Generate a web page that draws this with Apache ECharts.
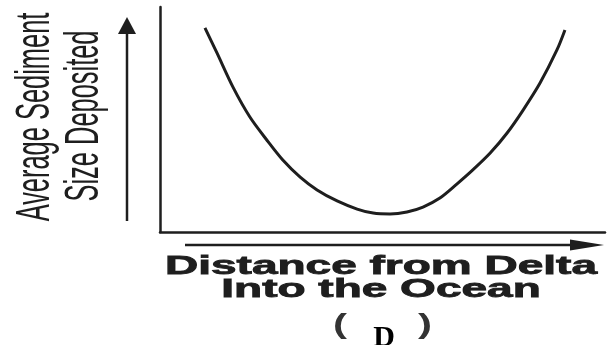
<!DOCTYPE html>
<html>
<head>
<meta charset="utf-8">
<script src="https://cdn.jsdelivr.net/npm/echarts@6/dist/echarts.min.js"></script>
<style>
  html, body { margin: 0; padding: 0; background: #fff; }
  #main { width: 608px; height: 345px; }
</style>
</head>
<body>
<div id="main"></div>
<script>
// distance from delta (0-100) and average sediment size (0-100)
var distance = [10.1, 12.8, 16.4, 20.2, 24.0, 27.6, 31.5, 35.3, 39.8, 44.3, 47.9, 51.7,
                55.5, 59.1, 62.9, 66.7, 70.3, 74.2, 78.0, 81.6, 85.4, 89.2, 91.0];
var sediment = [90.7, 79.6, 64.4, 51.1, 40.9, 32.0, 24.4, 18.7, 13.8, 10.2, 8.4, 8.0,
                8.9, 11.1, 15.1, 21.3, 27.6, 35.1, 44.0, 54.2, 66.2, 80.9, 89.8];
var yTitle = ["Average Sediment", "Size Deposited"];
var xTitle = ["Distance from Delta", "Into the Ocean"];
var caption = "D";

var points = [];
for (var i = 0; i < distance.length; i++) points.push([distance[i], sediment[i]]);

var ink = "#1e1e1e";
var yFont = "31px 'Liberation Sans', Arial, sans-serif";
var xFont = "bold 25px 'Liberation Sans', Arial, sans-serif";
var chart = echarts.init(document.getElementById("main"));

chart.setOption({
    backgroundColor: "#fff",
    animation: false,
    grid: { left: 160, right: 3, top: 7, bottom: 113 },
    xAxis: {
        type: "value", min: 0, max: 100,
        axisLine: { show: true, onZero: false, lineStyle: { color: ink, width: 2.5 } },
        axisTick: { show: false }, axisLabel: { show: false }, splitLine: { show: false }
    },
    yAxis: {
        type: "value", min: 0, max: 100,
        axisLine: { show: true, onZero: false, lineStyle: { color: ink, width: 2.5 } },
        axisTick: { show: false }, axisLabel: { show: false }, splitLine: { show: false }
    },
    series: [{
        type: "line",
        data: points,
        smooth: 0.3,
        showSymbol: false,
        lineStyle: { color: ink, width: 3 }
    }],
    graphic: [
        // vertical arrow
        { type: "line", shape: { x1: 127, y1: 221, x2: 127, y2: 30 }, style: { stroke: ink, lineWidth: 2.5 } },
        { type: "polygon", shape: { points: [[127, 17], [118, 34], [136, 34]] }, style: { fill: ink } },
        // horizontal arrow
        { type: "line", shape: { x1: 185, y1: 245, x2: 580, y2: 245 }, style: { stroke: ink, lineWidth: 2.5 } },
        { type: "polygon", shape: { points: [[604, 245], [570, 239.5], [570, 250.5]] }, style: { fill: ink } },
        // y titles
        {
            type: "text", x: 35, y: 117, rotation: Math.PI / 2, scaleX: 0.82, scaleY: 1.58,
            style: { text: yTitle[0], fill: ink, font: yFont, align: "center", verticalAlign: "middle" }
        },
        {
            type: "text", x: 84, y: 116, rotation: Math.PI / 2, scaleX: 0.82, scaleY: 1.58,
            style: { text: yTitle[1], fill: ink, font: yFont, align: "center", verticalAlign: "middle" }
        },
        // x titles (heavier face in the original, so a thin stroke thickens them)
        {
            type: "text", x: 381, y: 267, scaleX: 1.84,
            style: { text: xTitle[0], fill: ink, stroke: ink, lineWidth: 0.8, font: xFont, align: "center", verticalAlign: "middle" }
        },
        {
            type: "text", x: 381, y: 290, scaleX: 1.84,
            style: { text: xTitle[1], fill: ink, stroke: ink, lineWidth: 0.8, font: xFont, align: "center", verticalAlign: "middle" }
        },
        // ( D )
        {
            type: "text", x: 340, y: 325, scaleX: 1.5,
            style: { text: "(", fill: "#333", font: "bold 28px 'Liberation Sans', Arial, sans-serif", align: "center", verticalAlign: "middle" }
        },
        {
            type: "text", x: 425, y: 325, scaleX: 1.5,
            style: { text: ")", fill: "#333", font: "bold 28px 'Liberation Sans', Arial, sans-serif", align: "center", verticalAlign: "middle" }
        },
        {
            type: "text", x: 384, y: 338,
            style: { text: caption, fill: "#000", font: "bold 30px 'Liberation Serif', 'Times New Roman', serif", align: "center", verticalAlign: "middle" }
        }
    ]
});
</script>
</body>
</html>
